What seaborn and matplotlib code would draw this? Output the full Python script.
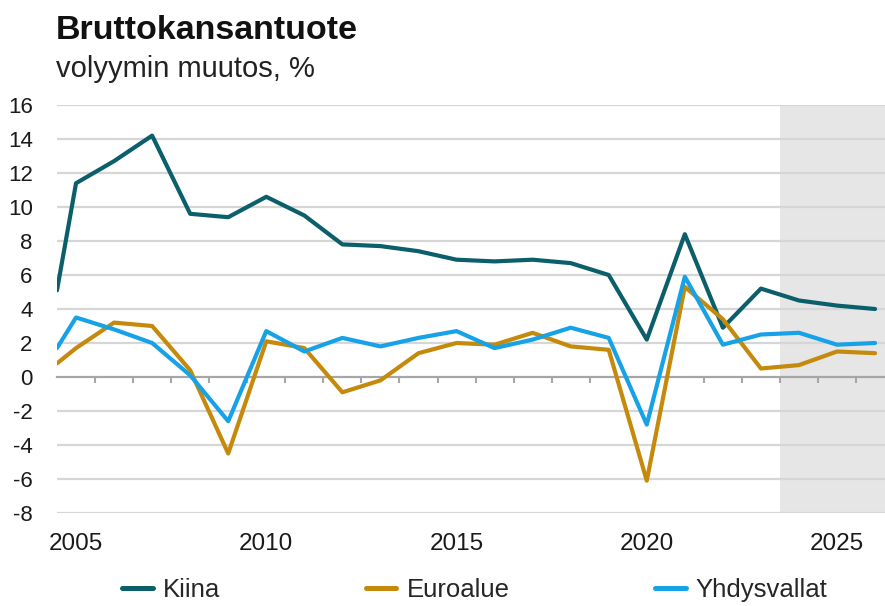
import pandas as pd
import matplotlib.pyplot as plt
import seaborn as sns
import numpy as np

# x positions: the first point sits on the left edge of the axis
years = [2004.5, 2005, 2006, 2007, 2008, 2009, 2010, 2011, 2012, 2013, 2014, 2015,
         2016, 2017, 2018, 2019, 2020, 2021, 2022, 2023, 2024, 2025, 2026]

kiina = [5.1, 11.4, 12.7, 14.2, 9.6, 9.4, 10.6, 9.5, 7.8, 7.7, 7.4, 6.9,
         6.8, 6.9, 6.7, 6.0, 2.2, 8.4, 2.9, 5.2, 4.5, 4.2, 4.0]
euroalue = [0.8, 1.7, 3.2, 3.0, 0.4, -4.5, 2.1, 1.7, -0.9, -0.2, 1.4, 2.0,
            1.9, 2.6, 1.8, 1.6, -6.1, 5.3, 3.4, 0.5, 0.7, 1.5, 1.4]
yhdysvallat = [1.7, 3.5, 2.8, 2.0, 0.1, -2.6, 2.7, 1.5, 2.3, 1.8, 2.3, 2.7,
               1.7, 2.2, 2.9, 2.3, -2.8, 5.9, 1.9, 2.5, 2.6, 1.9, 2.0]

series_names = ['Kiina', 'Euroalue', 'Yhdysvallat']
colors = ['#0b5f6b', '#c58a0c', '#17a2e8']
forecast_start = 2023.5
tick_labels = [2005, 2010, 2015, 2020, 2025]

# Build a long dataframe for seaborn
df = pd.DataFrame({'year': years, 'Kiina': kiina, 'Euroalue': euroalue,
                   'Yhdysvallat': yhdysvallat})
df_long = df.melt(id_vars='year', var_name='alue', value_name='muutos')

sns.set_style('white')
plt.rcParams['font.family'] = ['Liberation Sans', 'DejaVu Sans']
plt.rcParams['axes.unicode_minus'] = False

fig = plt.figure(figsize=(8.85, 6.06), dpi=100)
ax = fig.add_axes([57 / 885, (606 - 513) / 606, (885 - 57) / 885, (513 - 105) / 606])

# Forecast shading
ax.axvspan(forecast_start, 2027, color='#e6e6e6', zorder=0, lw=0)

# Horizontal grid
for y in range(-8, 17, 2):
    if y != 0:
        ax.axhline(y, color='#d6d6d6', lw=1.6, zorder=1)

sns.lineplot(data=df_long, x='year', y='muutos', hue='alue', hue_order=series_names,
             palette=colors, linewidth=3, ax=ax, legend=False, zorder=3)

ax.set_xlabel('')
ax.set_ylabel('')
for side in ['top', 'right', 'left']:
    ax.spines[side].set_visible(False)

# Zero line with small year ticks, labels at the bottom of the chart
ax.spines['bottom'].set_position(('data', 0))
ax.spines['bottom'].set_color('#a6a6a6')
ax.spines['bottom'].set_linewidth(1.6)
ax.spines['bottom'].set_zorder(2)
ax.set_xticks(tick_labels)
ax.set_xticklabels([str(t) for t in tick_labels])
ax.set_xticks(np.array(years[1:]) + 0.5, minor=True)
ax.tick_params(axis='x', which='major', bottom=False, pad=109, labelsize=17.5,
               labelcolor='#1a1a1a')
ax.tick_params(axis='x', which='minor', bottom=True, length=4, width=1.5,
               color='#a6a6a6', direction='out')
ax.set_yticks(range(-8, 17, 2))
ax.tick_params(axis='y', left=False, pad=14, labelsize=16, labelcolor='#1a1a1a')

# limits last, set_xticks can widen them
ax.set_xlim(2004.5, 2004.5 + 828 / 38.05)
ax.set_ylim(-8, 16)

# Title and subtitle
fig.text(56 / 885, 1 - 39 / 606, 'Bruttokansantuote', fontsize=24.5, fontweight='bold',
         color='#111111', ha='left', va='baseline')
fig.text(56 / 885, 1 - 77 / 606, 'volyymin muutos, %', fontsize=21,
         color='#222222', ha='left', va='baseline')

# Legend at the bottom
handles = [plt.Line2D([], [], color=c, lw=3.6) for c in colors]
fig.legend(handles, series_names, loc='center left', bbox_to_anchor=(122 / 885, 16 / 606),
           ncol=3, frameon=False, fontsize=18.5, handlelength=1.2, handletextpad=0.4,
           columnspacing=5.65, borderaxespad=0, borderpad=0)

fig.savefig('out.png', dpi=100)
